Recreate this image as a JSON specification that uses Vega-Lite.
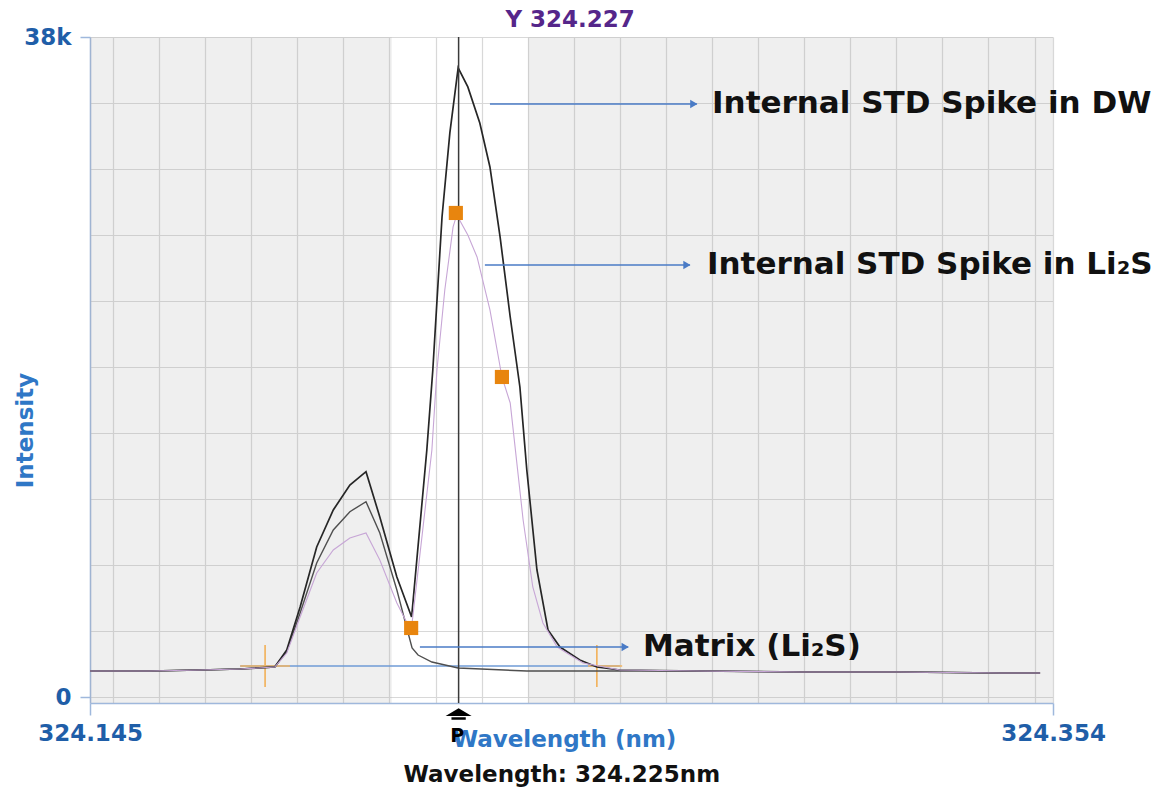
{
  "$schema": "https://vega.github.io/schema/vega-lite/v6.json",
  "width": 963,
  "height": 666,
  "autosize": {"type": "none"},
  "padding": {"left": 90, "top": 37, "right": 111, "bottom": 89},
  "background": "white",
  "config": {"view": {"stroke": null}, "font": "DejaVu Sans"},
  "datasets": {
    "bands": [
      {"wl": 324.145, "wl2": 324.2105},
      {"wl": 324.2401, "wl2": 324.354}
    ],
    "curves": [
      {"series": "DW", "wl": 324.1450, "intensity": 1497},
      {"series": "DW", "wl": 324.1580, "intensity": 1497},
      {"series": "DW", "wl": 324.1689, "intensity": 1555},
      {"series": "DW", "wl": 324.1776, "intensity": 1612},
      {"series": "DW", "wl": 324.1851, "intensity": 1727},
      {"series": "DW", "wl": 324.1877, "intensity": 2706},
      {"series": "DW", "wl": 324.1906, "intensity": 5182},
      {"series": "DW", "wl": 324.1942, "intensity": 8637},
      {"series": "DW", "wl": 324.1978, "intensity": 10767},
      {"series": "DW", "wl": 324.2014, "intensity": 12207},
      {"series": "DW", "wl": 324.2049, "intensity": 12973},
      {"series": "DW", "wl": 324.2079, "intensity": 10364},
      {"series": "DW", "wl": 324.2116, "intensity": 6910},
      {"series": "DW", "wl": 324.2148, "intensity": 4606},
      {"series": "DW", "wl": 324.2181, "intensity": 14222},
      {"series": "DW", "wl": 324.2194, "intensity": 18829},
      {"series": "DW", "wl": 324.2214, "intensity": 27638},
      {"series": "DW", "wl": 324.2231, "intensity": 32475},
      {"series": "DW", "wl": 324.2249, "intensity": 36218},
      {"series": "DW", "wl": 324.2270, "intensity": 35124},
      {"series": "DW", "wl": 324.2296, "intensity": 33051},
      {"series": "DW", "wl": 324.2318, "intensity": 30517},
      {"series": "DW", "wl": 324.2340, "intensity": 26487},
      {"series": "DW", "wl": 324.2362, "intensity": 21880},
      {"series": "DW", "wl": 324.2383, "intensity": 17850},
      {"series": "DW", "wl": 324.2398, "intensity": 13071},
      {"series": "DW", "wl": 324.2420, "intensity": 7313},
      {"series": "DW", "wl": 324.2444, "intensity": 3858},
      {"series": "DW", "wl": 324.2470, "intensity": 2879},
      {"series": "DW", "wl": 324.2513, "intensity": 2130},
      {"series": "DW", "wl": 324.2550, "intensity": 1727},
      {"series": "DW", "wl": 324.2600, "intensity": 1555},
      {"series": "DW", "wl": 324.2774, "intensity": 1497},
      {"series": "DW", "wl": 324.2991, "intensity": 1440},
      {"series": "DW", "wl": 324.3208, "intensity": 1440},
      {"series": "DW", "wl": 324.3425, "intensity": 1382},
      {"series": "DW", "wl": 324.3512, "intensity": 1382},
      {"series": "Matrix", "wl": 324.1450, "intensity": 1497},
      {"series": "Matrix", "wl": 324.1580, "intensity": 1497},
      {"series": "Matrix", "wl": 324.1689, "intensity": 1555},
      {"series": "Matrix", "wl": 324.1776, "intensity": 1612},
      {"series": "Matrix", "wl": 324.1851, "intensity": 1727},
      {"series": "Matrix", "wl": 324.1877, "intensity": 2608},
      {"series": "Matrix", "wl": 324.1906, "intensity": 4837},
      {"series": "Matrix", "wl": 324.1942, "intensity": 7716},
      {"series": "Matrix", "wl": 324.1978, "intensity": 9616},
      {"series": "Matrix", "wl": 324.2014, "intensity": 10670},
      {"series": "Matrix", "wl": 324.2049, "intensity": 11245},
      {"series": "Matrix", "wl": 324.2079, "intensity": 9443},
      {"series": "Matrix", "wl": 324.2116, "intensity": 6161},
      {"series": "Matrix", "wl": 324.2137, "intensity": 4031},
      {"series": "Matrix", "wl": 324.2149, "intensity": 2821},
      {"series": "Matrix", "wl": 324.2162, "intensity": 2418},
      {"series": "Matrix", "wl": 324.2192, "intensity": 2015},
      {"series": "Matrix", "wl": 324.2249, "intensity": 1670},
      {"series": "Matrix", "wl": 324.2398, "intensity": 1497},
      {"series": "Matrix", "wl": 324.2600, "intensity": 1497},
      {"series": "Matrix", "wl": 324.2774, "intensity": 1497},
      {"series": "Matrix", "wl": 324.2991, "intensity": 1440},
      {"series": "Matrix", "wl": 324.3208, "intensity": 1440},
      {"series": "Matrix", "wl": 324.3425, "intensity": 1382},
      {"series": "Matrix", "wl": 324.3512, "intensity": 1382},
      {"series": "Li2S", "wl": 324.1450, "intensity": 1497},
      {"series": "Li2S", "wl": 324.1580, "intensity": 1497},
      {"series": "Li2S", "wl": 324.1689, "intensity": 1555},
      {"series": "Li2S", "wl": 324.1776, "intensity": 1612},
      {"series": "Li2S", "wl": 324.1851, "intensity": 1727},
      {"series": "Li2S", "wl": 324.1877, "intensity": 2534},
      {"series": "Li2S", "wl": 324.1906, "intensity": 4606},
      {"series": "Li2S", "wl": 324.1942, "intensity": 7140},
      {"series": "Li2S", "wl": 324.1978, "intensity": 8464},
      {"series": "Li2S", "wl": 324.2014, "intensity": 9155},
      {"series": "Li2S", "wl": 324.2049, "intensity": 9443},
      {"series": "Li2S", "wl": 324.2079, "intensity": 7888},
      {"series": "Li2S", "wl": 324.2116, "intensity": 5413},
      {"series": "Li2S", "wl": 324.2147, "intensity": 3800},
      {"series": "Li2S", "wl": 324.2192, "intensity": 14222},
      {"series": "Li2S", "wl": 324.2203, "intensity": 18829},
      {"series": "Li2S", "wl": 324.2220, "intensity": 23435},
      {"series": "Li2S", "wl": 324.2238, "intensity": 27063},
      {"series": "Li2S", "wl": 324.2246, "intensity": 27754},
      {"series": "Li2S", "wl": 324.2270, "intensity": 26600},
      {"series": "Li2S", "wl": 324.2290, "intensity": 25335},
      {"series": "Li2S", "wl": 324.2318, "intensity": 22283},
      {"series": "Li2S", "wl": 324.2344, "intensity": 18426},
      {"series": "Li2S", "wl": 324.2362, "intensity": 16929},
      {"series": "Li2S", "wl": 324.2390, "intensity": 10192},
      {"series": "Li2S", "wl": 324.2411, "intensity": 6334},
      {"series": "Li2S", "wl": 324.2433, "intensity": 4261},
      {"series": "Li2S", "wl": 324.2464, "intensity": 2879},
      {"series": "Li2S", "wl": 324.2520, "intensity": 1958},
      {"series": "Li2S", "wl": 324.2600, "intensity": 1555},
      {"series": "Li2S", "wl": 324.2774, "intensity": 1497},
      {"series": "Li2S", "wl": 324.2991, "intensity": 1440},
      {"series": "Li2S", "wl": 324.3208, "intensity": 1440},
      {"series": "Li2S", "wl": 324.3425, "intensity": 1382},
      {"series": "Li2S", "wl": 324.3512, "intensity": 1382}
    ],
    "segments": [
      {"seg": "baseline", "wl": 324.1776, "wl2": 324.2600, "intensity": 1785, "intensity2": 1785},
      {"seg": "marker", "wl": 324.1776, "wl2": 324.1884, "intensity": 1785, "intensity2": 1785},
      {"seg": "marker", "wl": 324.1830, "wl2": 324.1830, "intensity": 576, "intensity2": 2995},
      {"seg": "marker", "wl": 324.2531, "wl2": 324.2605, "intensity": 1785, "intensity2": 1785},
      {"seg": "marker", "wl": 324.2550, "wl2": 324.2550, "intensity": 576, "intensity2": 2995}
    ],
    "points": [
      {"wl": 324.2147, "intensity": 3973},
      {"wl": 324.2244, "intensity": 27869},
      {"wl": 324.2344, "intensity": 18426}
    ],
    "annotations": [
      {"text": "Internal STD Spike in DW", "wl": 324.2318, "wl2": 324.2767, "twl": 324.2800, "intensity": 34145},
      {"text": "Internal STD Spike in Li₂S", "wl": 324.2307, "wl2": 324.2752, "twl": 324.2789, "intensity": 24875},
      {"text": "Matrix (Li₂S)", "wl": 324.2166, "wl2": 324.2618, "twl": 324.2650, "intensity": 2879}
    ]
  },
  "layer": [
    {
      "data": {"name": "bands"},
      "mark": {"type": "rect", "fill": "#a6a6a6", "fillOpacity": 0.18},
      "encoding": {
        "x": {
          "field": "wl", "type": "quantitative",
          "scale": {"domain": [324.145, 324.354], "nice": false, "zero": false},
          "axis": {
            "orient": "bottom",
            "values": [324.145, 324.15, 324.16, 324.17, 324.18, 324.19, 324.2, 324.21, 324.22, 324.23, 324.24, 324.25, 324.26, 324.27, 324.28, 324.29, 324.3, 324.31, 324.32, 324.33, 324.34, 324.35, 324.354],
            "labelExpr": "datum.value == 324.145 || datum.value == 324.354 ? format(datum.value, '.3f') : ''",
            "labelFlush": false, "labelOverlap": false, "labelBound": false,
            "labelFont": "DejaVu Sans", "labelFontWeight": "bold", "labelFontSize": 23, "labelColor": "#1f5ea8",
            "labelBaseline": "alphabetic", "labelPadding": 25,
            "tickSize": 12, "tickColor": "#9fb8dc", "tickWidth": 1.5,
            "tickOpacity": {"condition": {"test": "datum.value == 324.145 || datum.value == 324.354", "value": 1}, "value": 0},
            "domainColor": "#9fb8dc", "domainWidth": 1.5,
            "grid": true, "gridColor": "#d8d8d8", "gridWidth": 1.2,
            "title": "Wavelength (nm)", "titleFont": "DejaVu Sans", "titleFontWeight": "bold", "titleFontSize": 23, "titleColor": "#2f77c6",
            "titleX": 474, "titleY": 43, "titleBaseline": "alphabetic", "titleAlign": "center"
          }
        },
        "x2": {"field": "wl2"}
      }
    },
    {
      "data": {"name": "segments"},
      "mark": {"type": "rule", "strokeWidth": 1.7},
      "encoding": {
        "x": {"field": "wl", "type": "quantitative"},
        "x2": {"field": "wl2"},
        "y": {"field": "intensity", "type": "quantitative"},
        "y2": {"field": "intensity2"},
        "color": {"field": "seg", "type": "nominal", "scale": {"domain": ["baseline", "marker"], "range": ["#6f9bd6", "#f2b460"]}, "legend": null}
      }
    },
    {
      "data": {"name": "curves"},
      "transform": [{"filter": "datum.series == 'Matrix'"}],
      "mark": {"type": "line", "color": "#4f4f4f", "strokeWidth": 1.4},
      "encoding": {
        "x": {"field": "wl", "type": "quantitative"},
        "y": {
          "field": "intensity", "type": "quantitative",
          "scale": {"domain": [-345, 38000], "nice": false, "zero": false},
          "axis": {
            "orient": "left",
            "values": [0, 3800, 7600, 11400, 15200, 19000, 22800, 26600, 30400, 34200, 38000],
            "labelExpr": "datum.value == 38000 ? '38k' : (datum.value == 0 ? '0' : '')",
            "labelOverlap": false, "labelBound": false, "labelFlush": false,
            "labelFont": "DejaVu Sans", "labelFontWeight": "bold", "labelFontSize": 23, "labelColor": "#1f5ea8",
            "labelBaseline": "middle", "labelPadding": 9,
            "tickSize": 10, "tickColor": "#9fb8dc", "tickWidth": 1.5,
            "tickOpacity": {"condition": {"test": "datum.value == 0 || datum.value == 38000", "value": 1}, "value": 0},
            "domainColor": "#9fb8dc", "domainWidth": 1.5,
            "grid": true, "gridColor": "#d8d8d8", "gridWidth": 1.2,
            "title": "Intensity", "titleFont": "DejaVu Sans", "titleFontWeight": "bold", "titleFontSize": 23, "titleColor": "#2f77c6",
            "titleAngle": 270, "titleX": -65, "titleY": 393, "titleBaseline": "middle", "titleAlign": "center"
          }
        }
      }
    },
    {
      "data": {"name": "curves"},
      "transform": [{"filter": "datum.series == 'DW'"}],
      "mark": {"type": "line", "color": "#262626", "strokeWidth": 1.7},
      "encoding": {
        "x": {"field": "wl", "type": "quantitative"},
        "y": {"field": "intensity", "type": "quantitative"}
      }
    },
    {
      "data": {"name": "curves"},
      "transform": [{"filter": "datum.series == 'Li2S'"}],
      "mark": {"type": "line", "color": "#c7a6d6", "strokeWidth": 1.1},
      "encoding": {
        "x": {"field": "wl", "type": "quantitative"},
        "y": {"field": "intensity", "type": "quantitative"}
      }
    },
    {
      "data": {"values": [{}]},
      "mark": {"type": "rule", "color": "#3a3a3a", "strokeWidth": 1.5},
      "encoding": {
        "x": {"datum": 324.225, "type": "quantitative"}
      }
    },
    {
      "data": {"name": "points"},
      "mark": {"type": "point", "shape": "square", "filled": true, "color": "#e8850e", "opacity": 1, "size": 200},
      "encoding": {
        "x": {"field": "wl", "type": "quantitative"},
        "y": {"field": "intensity", "type": "quantitative"}
      }
    },
    {
      "data": {"name": "annotations"},
      "mark": {"type": "rule", "color": "#4a7bc6", "strokeWidth": 1.6},
      "encoding": {
        "x": {"field": "wl", "type": "quantitative"},
        "x2": {"field": "wl2"},
        "y": {"field": "intensity", "type": "quantitative"}
      }
    },
    {
      "data": {"name": "annotations"},
      "mark": {"type": "point", "shape": "triangle-right", "filled": true, "color": "#4a7bc6", "opacity": 1, "size": 70, "xOffset": -3},
      "encoding": {
        "x": {"field": "wl2", "type": "quantitative"},
        "y": {"field": "intensity", "type": "quantitative"}
      }
    },
    {
      "data": {"name": "annotations"},
      "mark": {"type": "text", "align": "left", "baseline": "middle", "font": "DejaVu Sans", "fontWeight": "bold", "fontSize": 31, "color": "#111111"},
      "encoding": {
        "x": {"field": "twl", "type": "quantitative"},
        "y": {"field": "intensity", "type": "quantitative"},
        "text": {"field": "text"}
      }
    },
    {
      "data": {"values": [{}]},
      "mark": {"type": "point", "shape": "M-1,0.15L0,-0.45L1,0.15Z M-0.55,0.25H0.55V0.45H-0.55Z", "filled": true, "color": "#000000", "opacity": 1, "size": 676, "yOffset": 17},
      "encoding": {
        "x": {"datum": 324.225, "type": "quantitative"},
        "y": {"datum": 0, "type": "quantitative"}
      }
    },
    {
      "data": {"values": [{}]},
      "mark": {"type": "text", "text": "P", "align": "center", "baseline": "alphabetic", "dy": 45, "font": "DejaVu Sans", "fontWeight": "bold", "fontSize": 19, "color": "#000000"},
      "encoding": {
        "x": {"datum": 324.2247, "type": "quantitative"},
        "y": {"datum": 0, "type": "quantitative"}
      }
    },
    {
      "data": {"values": [{}]},
      "mark": {"type": "text", "text": "Y 324.227", "align": "center", "baseline": "alphabetic", "dy": -10, "font": "DejaVu Sans", "fontWeight": "bold", "fontSize": 23, "color": "#55268a"},
      "encoding": {
        "x": {"datum": 324.2492, "type": "quantitative"},
        "y": {"datum": 38000, "type": "quantitative"}
      }
    },
    {
      "data": {"values": [{}]},
      "mark": {"type": "text", "text": "Wavelength: 324.225nm", "align": "center", "baseline": "alphabetic", "dy": 85, "font": "DejaVu Sans", "fontWeight": "bold", "fontSize": 23, "color": "#111111"},
      "encoding": {
        "x": {"datum": 324.2474, "type": "quantitative"},
        "y": {"datum": 0, "type": "quantitative"}
      }
    }
  ]
}
